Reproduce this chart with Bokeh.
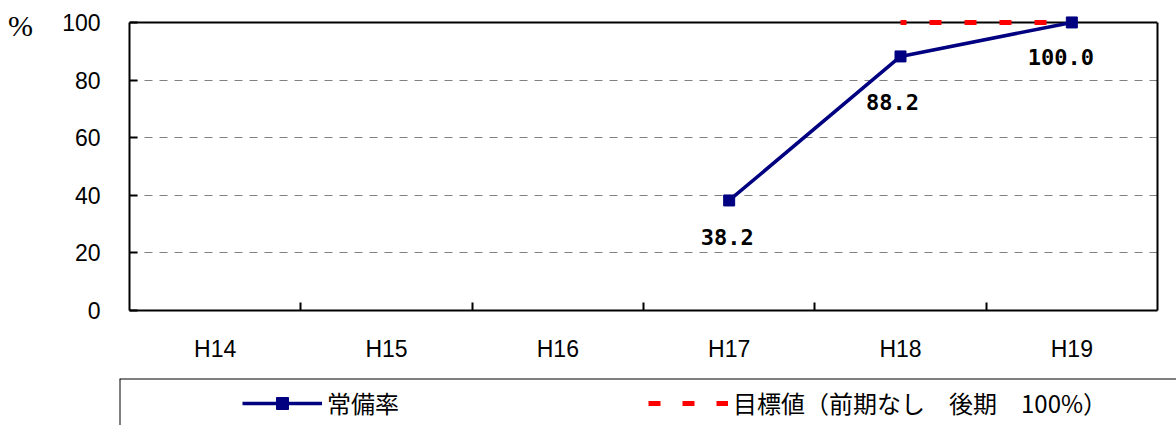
from bokeh.plotting import figure
from bokeh.models import (FactorRange, Range1d, LinearAxis, CategoricalAxis, FixedTicker,
                          Span, Label, LabelSet, ColumnDataSource, Legend, LegendItem)
from bokeh.core.properties import value
from bokeh.layouts import column, row
from bokeh.embed import file_html
from bokeh.resources import INLINE

# ---- data ----
years = ["H14", "H15", "H16", "H17", "H18", "H19"]
rate = [None, None, None, 38.2, 88.2, 100.0]          # 常備率 (%)
target = [None, None, None, None, 100.0, 100.0]       # 目標値 (%)
y_ticks = [0, 20, 40, 60, 80, 100]
grid_ticks = [20, 40, 60, 80]
rate_name = "常備率"
target_name = "目標値（前期なし　後期　100%）"
unit_text = "%"

# label placement tweaks (screen px), one per labelled point
label_dx = [-2, -8, -11]
label_dy = [-37, -46, -35]

NAVY = "#000080"
RED = "#FF0000"
TICK_FONT = "Liberation Sans"
CJK_FONT = "Noto Sans CJK JP"

nan = float("nan")
rate_v = [nan if v is None else v for v in rate]
target_v = [nan if v is None else v for v in target]

W = 1176
H1 = 364
UNIT_W = 40

# ---- unit strip (holds the "%" text at the top left) ----
pu = figure(width=UNIT_W, height=H1, x_range=Range1d(0, 1), y_range=Range1d(0, 1),
            x_axis_location=None, y_axis_location=None,
            output_backend="svg", toolbar_location=None,
            min_border_left=0, min_border_right=0, min_border_top=0, min_border_bottom=0)
pu.frame_align = False
pu.outline_line_color = None
pu.grid.visible = False
pu.border_fill_color = "white"
pu.add_layout(Label(x=20, y=H1 - 25, x_units="screen", y_units="screen",
                    text=unit_text, text_font="Liberation Serif", text_font_size="30px",
                    text_align="center", text_baseline="middle", text_color="black"))

# ---- main chart ----
B_LEFT, B_RIGHT, B_TOP, B_BOTTOM = 129 - UNIT_W, 19, 4, 53
plot_h = 289.0                        # pixels from 0 to 100
frame_h = H1 - B_TOP - B_BOTTOM
y_end = 100.0 * frame_h / plot_h

p = figure(width=W - UNIT_W, height=H1, x_range=FactorRange(*years), y_range=Range1d(0, y_end),
           x_axis_location=None, y_axis_location=None,
           output_backend="svg", toolbar_location=None,
           min_border_left=B_LEFT, min_border_right=B_RIGHT,
           min_border_top=B_TOP, min_border_bottom=B_BOTTOM)
p.frame_align = False
p.outline_line_color = None
p.background_fill_color = "white"
p.border_fill_color = "white"

p.xgrid.visible = False
p.ygrid.ticker = FixedTicker(ticks=grid_ticks)
p.ygrid.grid_line_color = "#808080"
p.ygrid.grid_line_dash = "8 7"
p.ygrid.grid_line_width = 1

# left axis
yax = LinearAxis(ticker=FixedTicker(ticks=y_ticks), bounds=(0, 100),
                 major_tick_in=8, major_tick_out=0, major_tick_line_width=2,
                 minor_tick_line_color=None, axis_line_width=2, axis_line_color="black",
                 major_label_standoff=29, major_label_text_font=TICK_FONT,
                 major_label_text_font_size="23px", major_label_text_color="black")
p.add_layout(yax, "left")

# right border as a bare axis
rax = LinearAxis(ticker=FixedTicker(ticks=[]), bounds=(0, 100),
                 major_tick_line_color=None, minor_tick_line_color=None,
                 axis_line_width=2, axis_line_color="black",
                 major_label_standoff=0)
p.add_layout(rax, "right")

# bottom: tick marks between categories (synthetic category coordinates)
bounds_ticks = list(range(1, len(years)))
xtick_ax = LinearAxis(ticker=FixedTicker(ticks=bounds_ticks),
                      major_label_overrides={t: "" for t in bounds_ticks},
                      major_tick_in=8, major_tick_out=0, major_tick_line_width=2,
                      minor_tick_line_color=None, axis_line_width=2, axis_line_color="black",
                      major_label_text_font_size="1px", major_label_standoff=0)
p.add_layout(xtick_ax, "below")
# bottom: category labels
xlab_ax = CategoricalAxis(axis_line_color=None, major_tick_line_color=None,
                          minor_tick_line_color=None, major_label_standoff=19,
                          major_label_text_font=TICK_FONT, major_label_text_font_size="23px",
                          major_label_text_color="black")
p.add_layout(xlab_ax, "below")

# top border
p.add_layout(Span(location=100, dimension="width", line_color="black", line_width=2, level="underlay"))

# target line
p.line(x=years, y=target_v, line_color=RED, line_width=5, line_dash="12 23", line_dash_offset=6)
# rate line with markers
p.line(x=years, y=rate_v, line_color=NAVY, line_width=3.5)
p.scatter(x=years, y=rate_v, marker="square", size=11, fill_color=NAVY, line_color=NAVY)

# data labels
lab_x = [y for y, v in zip(years, rate) if v is not None]
lab_y = [v for v in rate if v is not None]
lab_src = ColumnDataSource(dict(x=lab_x, y=lab_y, text=[f"{v:.1f}" for v in lab_y],
                                dx=label_dx, dy=label_dy))
p.add_layout(LabelSet(x="x", y="y", text="text", x_offset="dx", y_offset="dy", source=lab_src,
                      text_font=value("DejaVu Sans Mono"), text_font_style="bold",
                      text_font_size=value("22px"),
                      text_align="center", text_baseline="middle", text_color="black"))

# ---- legend strip ----
H2 = 61
L_LEFT, L_TOP = 119, 14
p2 = figure(width=W, height=H2, x_range=Range1d(0, 1), y_range=Range1d(0, 1),
            x_axis_location=None, y_axis_location=None,
            output_backend="svg", toolbar_location=None,
            min_border_left=L_LEFT, min_border_right=0, min_border_top=L_TOP, min_border_bottom=0)
p2.frame_align = False
p2.outline_line_color = None
p2.grid.visible = False
p2.border_fill_color = "white"
p2.add_layout(Span(location=1, dimension="width", line_color="black", line_width=2))
p2.add_layout(Span(location=0, dimension="height", line_color="black", line_width=2))

# legend proxies: placed outside the visible range, only their styles are shown in the legend
off = [-10, -9]
r1 = p2.line(x=off, y=off, line_color=NAVY, line_width=3.5)
r1m = p2.scatter(x=off, y=off, marker="square", size=10, fill_color=NAVY, line_color=NAVY)
r2 = p2.line(x=off, y=off, line_color=RED, line_width=5, line_dash="12 22")

legend = Legend(items=[LegendItem(label=rate_name, renderers=[r1, r1m]),
                       LegendItem(label=target_name, renderers=[r2])],
                location=(123, 5), orientation="horizontal",
                glyph_width=80, glyph_height=30, label_height=30, label_width=300,
                label_standoff=5, spacing=21, padding=0, margin=0,
                border_line_color=None, background_fill_color=None,
                label_text_font=CJK_FONT, label_text_font_size="24px", label_text_color="black")
p2.add_layout(legend, "center")

layout = column(row(pu, p, spacing=0), p2, spacing=0)
open("out.html", "w").write(file_html(layout, INLINE))
